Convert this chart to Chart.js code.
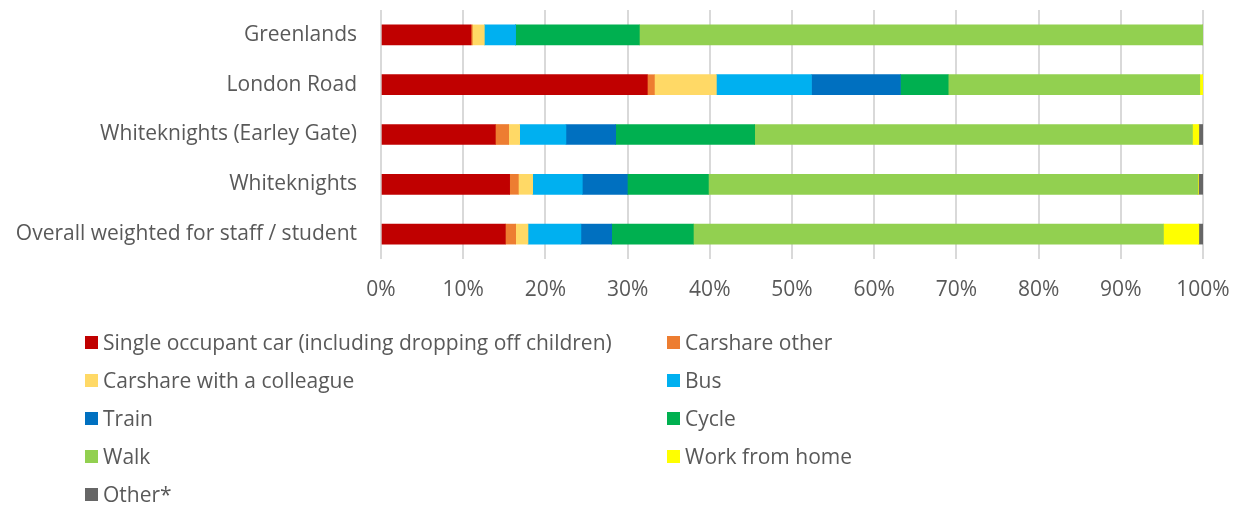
<!DOCTYPE html>
<html>
<head>
<meta charset="utf-8">
<script src="https://cdn.jsdelivr.net/npm/chart.js@4/dist/chart.umd.min.js"></script>
<style>
  html, body { margin: 0; padding: 0; background: #fff; }
  #wrap { position: relative; width: 1247px; height: 506px; }
  #plot { position: absolute; left: 0; top: 0; width: 1247px; height: 310px; }
  #legend { position: absolute; left: 0; top: 0; width: 1247px; height: 506px; pointer-events: none; }
  .item { position: absolute; display: flex; align-items: center; font-family: 'Open Sans', sans-serif;
          font-size: 21px; color: #595959; white-space: nowrap; }
  .swatch { width: 13px; height: 13px; margin-right: 5px; }
</style>
</head>
<body>
<div id="wrap">
  <div id="plot"><canvas id="c"></canvas></div>
  <div id="legend"></div>
</div>
<script>
// categories, top to bottom
var sites = ['Greenlands', 'London Road', 'Whiteknights (Earley Gate)', 'Whiteknights', 'Overall weighted for staff / student'];

// share of journeys (%) per mode, same order as sites
var singleCar   = [10.95, 32.40, 13.91, 15.65, 15.13];
var carshareOth = [0.16,  0.86,  1.62,  1.06,  1.25];
var carshareCol = [1.46,  7.54,  1.34,  1.74,  1.50];
var bus         = [3.81,  11.57, 5.63,  6.04,  6.44];
var train       = [0,     10.82, 6.05,  5.48,  3.74];
var cycle       = [15.05, 5.81,  16.91, 9.86,  9.94];
var walk        = [68.57, 30.61, 53.26, 59.54, 57.19];
var workHome    = [0,     0.39,  0.77,  0.08,  4.30];
var other       = [0,     0,     0.51,  0.55,  0.51];

var xTicks = [0, 10, 20, 30, 40, 50, 60, 70, 80, 90, 100];

var modeNames = ['Single occupant car (including dropping off children)', 'Carshare other',
  'Carshare with a colleague', 'Bus', 'Train', 'Cycle', 'Walk', 'Work from home', 'Other*'];
var modeValues = [singleCar, carshareOth, carshareCol, bus, train, cycle, walk, workHome, other];
var modeColors = ['#C00000', '#ED7D31', '#FFD966', '#00B0F0', '#0070C0', '#00B050', '#92D050', '#FFFF00', '#666666'];

var FONT = "'Open Sans', sans-serif";
var TEXT = '#595959';

var datasets = modeNames.map(function (name, i) {
  return {
    label: name,
    data: modeValues[i],
    backgroundColor: modeColors[i],
    borderWidth: 0,
    barThickness: 20
  };
});

new Chart(document.getElementById('c'), {
  type: 'bar',
  data: { labels: sites, datasets: datasets },
  options: {
    indexAxis: 'y',
    responsive: true,
    maintainAspectRatio: false,
    animation: false,
    layout: { padding: { top: 10, right: 44, left: 0, bottom: 0 } },
    plugins: { legend: { display: false }, tooltip: { enabled: false } },
    scales: {
      x: {
        stacked: true,
        min: 0,
        max: 100,
        afterBuildTicks: function (scale) {
          scale.ticks = xTicks.map(function (v) { return { value: v }; });
        },
        afterFit: function (scale) {
          scale.height = 51;
          scale.paddingLeft = 0;
          scale.paddingRight = 0;
        },
        grid: { color: '#d9d9d9', lineWidth: 2, drawTicks: false },
        border: { display: false },
        ticks: {
          padding: 18,
          color: TEXT,
          font: { family: FONT, size: 21 },
          callback: function (v) { return v + '%'; }
        }
      },
      y: {
        stacked: true,
        afterFit: function (scale) {
          scale.width = 381;
          scale.paddingTop = 0;
          scale.paddingBottom = 0;
        },
        grid: { display: false, drawTicks: false },
        border: { display: false },
        ticks: {
          padding: 24,
          color: TEXT,
          font: { family: FONT, size: 21 }
        }
      }
    }
  }
});

// two-column legend built from the datasets
var legend = document.getElementById('legend');
var colX = [85, 667];
var rowY = [342, 380, 418, 456, 494];
datasets.forEach(function (ds, i) {
  var el = document.createElement('div');
  el.className = 'item';
  el.style.left = colX[i % 2] + 'px';
  el.style.top = (rowY[Math.floor(i / 2)] - 14) + 'px';
  el.style.height = '28px';
  var sw = document.createElement('span');
  sw.className = 'swatch';
  sw.style.background = ds.backgroundColor;
  el.appendChild(sw);
  el.appendChild(document.createTextNode(ds.label));
  legend.appendChild(el);
});
</script>
</body>
</html>
